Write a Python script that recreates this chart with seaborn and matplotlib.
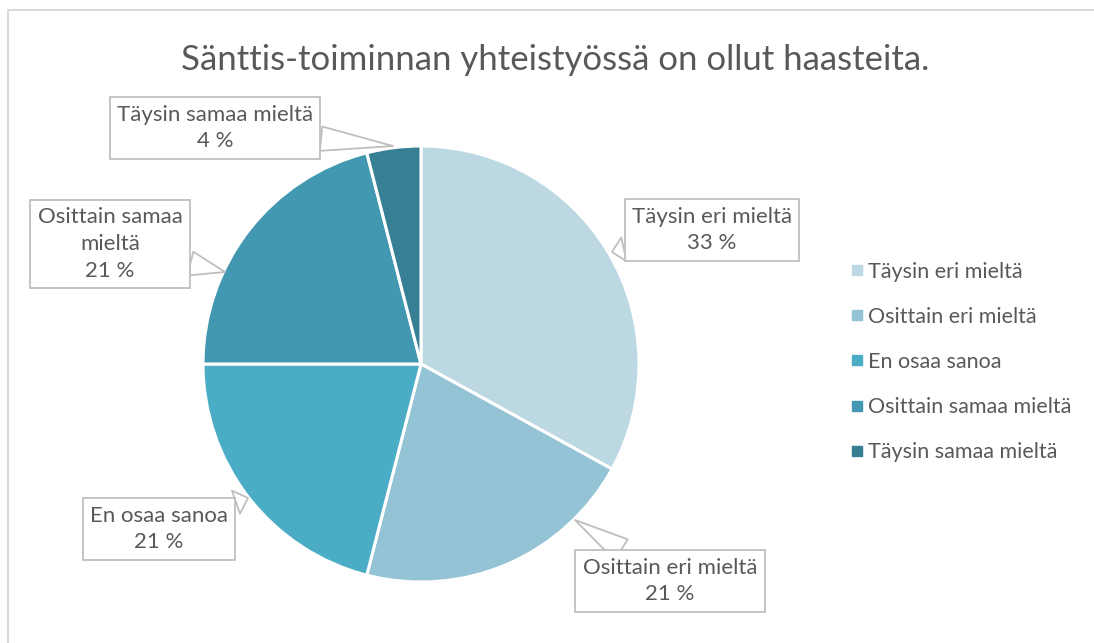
import matplotlib
matplotlib.use("Agg")
import matplotlib.pyplot as plt
import seaborn as sns
from matplotlib.lines import Line2D

# Data
categories = ['Täysin eri mieltä', 'Osittain eri mieltä', 'En osaa sanoa',
              'Osittain samaa mieltä', 'Täysin samaa mieltä']
shares = [33, 21, 21, 21, 4]
box_labels = ['Täysin eri mieltä\n33 %', 'Osittain eri mieltä\n21 %', 'En osaa sanoa\n21 %',
              'Osittain samaa\nmieltä\n21 %', 'Täysin samaa mieltä\n4 %']
title = 'Sänttis-toiminnan yhteistyössä on ollut haasteita.'

sns.set_theme(style="white")
plt.rcParams['font.family'] = ['Lato', 'DejaVu Sans']
colors = sns.color_palette(['#bcd8e3', '#93c3d5', '#4bacc6', '#4198b0', '#367f95'])
txt = '#595959'

W, H = 1094, 643
fig = plt.figure(figsize=(W / 100, H / 100), dpi=100)
ax = fig.add_axes([0, 0, 1, 1])

# pie in pixel coordinates (y up)
cx, cy, r = 421, H - 364, 218
wedges, _ = ax.pie(shares, colors=colors, startangle=90, counterclock=False,
                   center=(cx, cy), radius=r,
                   wedgeprops=dict(edgecolor='white', linewidth=2.2))
ax.set_xlim(0, W)
ax.set_ylim(0, H)
ax.set_aspect('auto')
ax.axis('off')

# callout boxes: (box centre, pointer tip) in pixels from top-left
box_pos = [(712, 230), (670, 581), (159, 529), (110, 244), (215, 128)]
tips = [(612, 252), (575, 520), (248, 498), (225, 272), (393, 146)]
for lab, (bx, by), (tx, ty) in zip(box_labels, box_pos, tips):
    ax.annotate(lab, xy=(tx, H - ty), xytext=(bx, H - by), ha='center', va='center',
                fontsize=16, color=txt, linespacing=1.42,
                bbox=dict(boxstyle='square,pad=0.33', fc='white', ec='#bfbfbf', lw=1.3),
                arrowprops=dict(arrowstyle='wedge,tail_width=1.1,shrink_factor=0.5',
                                fc='white', ec='#bfbfbf', lw=1.3, shrinkA=0, shrinkB=0))

ax.text(555, H - 60, title, ha='center', va='center', fontsize=25, color=txt)

handles = [Line2D([0], [0], marker='s', linestyle='', markersize=7,
                  markerfacecolor=c, markeredgecolor=c) for c in colors]
leg = fig.legend(handles, categories, loc='center left', bbox_to_anchor=(830 / W, 1 - 362 / H),
                 frameon=False, fontsize=15.5, labelspacing=1.17, handletextpad=0.15,
                 handlelength=0.7, labelcolor=txt)

# chart border (top and left visible)
fig.add_artist(Line2D([8 / W, 8 / W], [0, 1 - 10 / H], transform=fig.transFigure, color='#d9d9d9', lw=1.5))
fig.add_artist(Line2D([8 / W, 1], [1 - 10 / H, 1 - 10 / H], transform=fig.transFigure, color='#d9d9d9', lw=1.5))

fig.savefig('out.png', dpi=100, facecolor='white')
